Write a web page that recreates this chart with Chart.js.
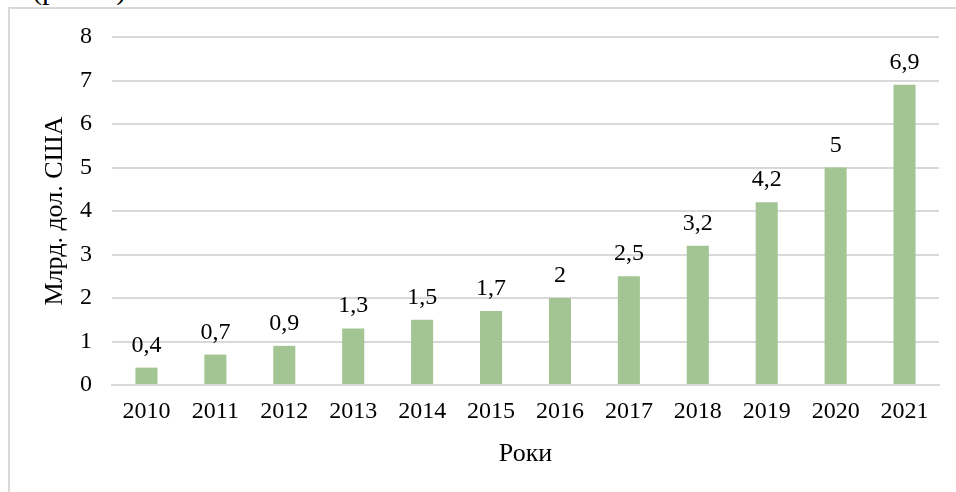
<!DOCTYPE html>
<html>
<head>
<meta charset="utf-8">
<script src="https://cdn.jsdelivr.net/npm/chart.js@4"></script>
<style>
    html, body { margin: 0; padding: 0; background: #fff; overflow: hidden; }
    body { width: 956px; height: 492px; position: relative; }
    .caption {
        position: absolute; left: 32px; top: -28px;
        font-family: "Liberation Serif", serif; font-size: 30px; color: #000;
        white-space: nowrap;
    }
    .frame {
        position: absolute; left: 8px; top: 7px; width: 960px; height: 500px;
        border-left: 2px solid #d9d9d9; border-top: 2px solid #d9d9d9;
        box-sizing: border-box;
    }
    .box { position: absolute; left: 10px; top: 9px; width: 946px; height: 483px; }
</style>
</head>
<body>
<div class="caption">(рис. 1)</div>
<div class="frame"></div>
<div class="box"><canvas id="fundingChart"></canvas></div>
<script>
const years = ['2010', '2011', '2012', '2013', '2014', '2015', '2016', '2017', '2018', '2019', '2020', '2021'];
const values = [0.4, 0.7, 0.9, 1.3, 1.5, 1.7, 2, 2.5, 3.2, 4.2, 5, 6.9];
const yTicks = [0, 1, 2, 3, 4, 5, 6, 7, 8];

const serif = '"Liberation Serif", "Times New Roman", serif';

// draws value above each bar, with a comma as decimal mark
const valueLabels = {
    id: 'valueLabels',
    afterDatasetsDraw(chart) {
        const ctx = chart.ctx;
        const meta = chart.getDatasetMeta(0);
        ctx.save();
        ctx.font = '24px ' + serif;
        ctx.fillStyle = '#000';
        ctx.textAlign = 'center';
        ctx.textBaseline = 'alphabetic';
        meta.data.forEach(function (bar, i) {
            const txt = String(values[i]).replace('.', ',');
            ctx.fillText(txt, bar.x, bar.y - 16);
        });
        ctx.restore();
    }
};

const ctx = document.getElementById('fundingChart').getContext('2d');
new Chart(ctx, {
    type: 'bar',
    data: {
        labels: years,
        datasets: [{
            data: values,
            backgroundColor: '#a2c593',
            barPercentage: 0.32,
            categoryPercentage: 1.0
        }]
    },
    options: {
        responsive: true,
        maintainAspectRatio: false,
        animation: false,
        layout: {
            padding: { left: 0, right: 17, top: 28, bottom: 22 }
        },
        plugins: {
            legend: { display: false },
            tooltip: { enabled: false }
        },
        scales: {
            y: {
                min: 0,
                max: 8,
                afterBuildTicks: function (axis) {
                    axis.ticks = yTicks.map(v => ({ value: v }));
                },
                afterFit: function (axis) {
                    axis.width = 102;
                    axis.paddingTop = 0;
                    axis.paddingBottom = 0;
                },
                ticks: {
                    color: '#000',
                    padding: 20,
                    font: { family: serif, size: 24 }
                },
                grid: {
                    color: '#d9d9d9',
                    lineWidth: 2,
                    drawTicks: false
                },
                border: { display: false },
                title: {
                    display: true,
                    text: 'Млрд. дол. США',
                    color: '#000',
                    font: { family: serif, size: 26 },
                    padding: { top: 30, bottom: 9 }
                }
            },
            x: {
                afterFit: function (axis) {
                    axis.height = 85;
                },
                ticks: {
                    color: '#000',
                    padding: 12,
                    font: { family: serif, size: 24 }
                },
                grid: { display: false, drawTicks: false },
                border: { display: true, color: '#d9d9d9', width: 2 },
                title: {
                    display: true,
                    text: 'Роки',
                    color: '#000',
                    font: { family: serif, size: 26 },
                    padding: { top: 10, bottom: 0 }
                }
            }
        }
    },
    plugins: [valueLabels]
});
</script>
</body>
</html>
